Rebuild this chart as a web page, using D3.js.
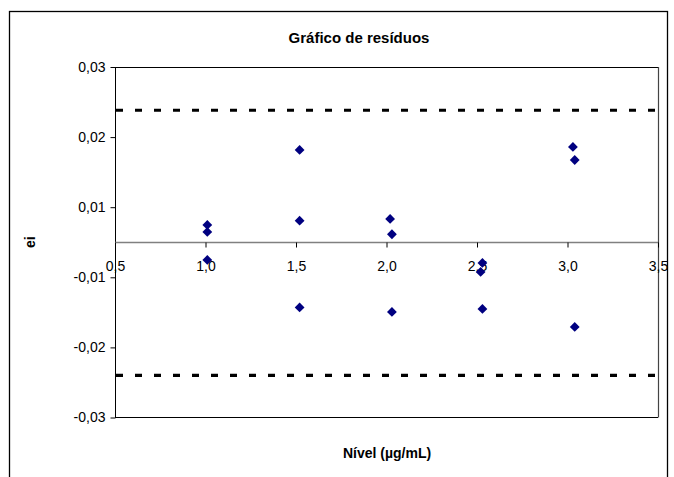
<!DOCTYPE html>
<html>
<head>
<meta charset="utf-8">
<script src="https://cdn.jsdelivr.net/npm/d3@7/dist/d3.min.js"></script>
<style>
  html, body { margin: 0; padding: 0; background: #fff; }
  svg { display: block; font-family: "Liberation Sans", Arial, sans-serif; }
</style>
</head>
<body>
<svg id="chart" width="674" height="477"></svg>
<script>
// ---- data ----
const levelX = [1.01, 1.01, 1.01, 1.52, 1.52, 1.52, 2.02, 2.03, 2.03, 2.53, 2.52, 2.53, 3.03, 3.04, 3.04];
const residuals = [0.00296, 0.00176, -0.00303, 0.0158, 0.0037, -0.01116, 0.00399, 0.00137, -0.01193,
                   -0.00354, -0.00508, -0.01141, 0.01631, 0.01408, -0.0145];
const limits = [0.0226, -0.0228];
const xTicks = [0.5, 1.0, 1.5, 2.0, 2.5, 3.0, 3.5];
const yTicks = [-0.03, -0.018, -0.006, 0.006, 0.018, 0.03];
const titleText = "Gráfico de resíduos";
const xTitle = "Nível (µg/mL)";
const yTitle = "ei";

// ---- layout ----
const svg = d3.select("#chart");
const pL = 115, pR = 658, pT = 67, pB = 417.5;
const loc = d3.formatLocale({decimal: ",", thousands: ".", grouping: [3], currency: ["R$", ""], minus: "-"});
const x = d3.scaleLinear().domain([0.5, 3.5]).range([pL, pR]);
const y = d3.scaleLinear().domain([-0.03, 0.03]).range([pB, pT]);

// outer chart border
svg.append("rect").attr("x", 9.5).attr("y", 11.5).attr("width", 658).attr("height", 480)
  .attr("fill", "#fff").attr("stroke", "#000").attr("stroke-width", 1.3);

// title
svg.append("text").attr("x", 359).attr("y", 43).attr("text-anchor", "middle")
  .attr("font-size", 15).attr("font-weight", "bold").text(titleText);

// plot area border (top, right, bottom)
svg.append("line").attr("x1", pL).attr("x2", pR).attr("y1", pT + 0.5).attr("y2", pT + 0.5)
  .attr("stroke", "#000").attr("stroke-width", 1);
svg.append("line").attr("x1", pL).attr("x2", pR).attr("y1", pB).attr("y2", pB)
  .attr("stroke", "#000").attr("stroke-width", 1);
svg.append("line").attr("x1", pR + 0.5).attr("x2", pR + 0.5).attr("y1", pT).attr("y2", pB)
  .attr("stroke", "#444").attr("stroke-width", 1.2);

// y axis
const yAxis = d3.axisLeft(y).tickValues(yTicks).tickSize(5).tickPadding(5).tickFormat(loc.format(".2f"));
const gy = svg.append("g").attr("transform", `translate(${pL + 0.5},0)`).call(yAxis);
gy.select(".domain").attr("stroke", "#000").attr("d", `M0,${pT}V${pB}`);
gy.selectAll(".tick line").attr("stroke", "#000");
gy.selectAll(".tick text").attr("font-size", 14).attr("fill", "#000").attr("font-family", "Liberation Sans, Arial, sans-serif");

// x axis at zero
const xAxis = d3.axisBottom(x).tickValues(xTicks).tickSize(5).tickPadding(14).tickFormat(loc.format(".1f"));
const gx = svg.append("g").attr("transform", `translate(0,${Math.round(y(0)) + 0.5})`).call(xAxis);
gx.select(".domain").attr("stroke", "#808080").attr("stroke-width", 1.3).attr("d", `M${pL},0H${pR}`);
gx.selectAll(".tick line").attr("stroke", "#000");
gx.selectAll(".tick text").attr("font-size", 14).attr("fill", "#000").attr("font-family", "Liberation Sans, Arial, sans-serif");

// limit lines
svg.append("g").selectAll("line").data(limits).join("line")
  .attr("x1", pL + 1).attr("x2", pR)
  .attr("y1", d => y(d)).attr("y2", d => y(d))
  .attr("stroke", "#000").attr("stroke-width", 3.2).attr("stroke-dasharray", "7,12");

// points
const pts = levelX.map((v, i) => [v, residuals[i]]);
svg.append("g").selectAll("path").data(pts).join("path")
  .attr("transform", d => `translate(${x(d[0])},${y(d[1])}) rotate(45)`)
  .attr("d", d3.symbol(d3.symbolSquare, 48))
  .attr("fill", "#000080");

// axis titles
svg.append("text").attr("x", 387).attr("y", 458).attr("text-anchor", "middle")
  .attr("font-size", 14).attr("font-weight", "bold").text(xTitle);
svg.append("text").attr("transform", `translate(35,${y(0)}) rotate(-90)`).attr("text-anchor", "middle")
  .attr("font-size", 14).attr("font-weight", "bold").text(yTitle);
</script>
</body>
</html>
